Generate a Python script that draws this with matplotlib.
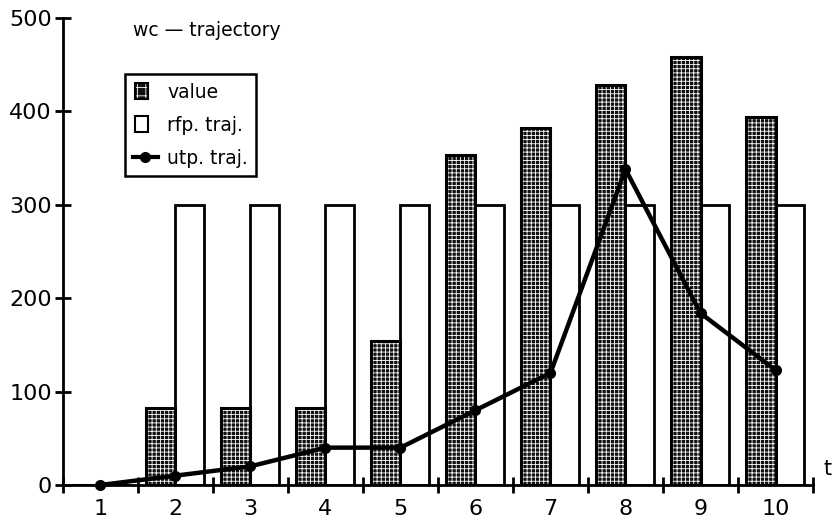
import matplotlib.pyplot as plt
from matplotlib.patches import Patch, Rectangle
from matplotlib.lines import Line2D
from matplotlib.legend_handler import HandlerPatch, HandlerTuple

# periods and the three series
periods = [1, 2, 3, 4, 5, 6, 7, 8, 9, 10]
value = [0, 82, 82, 82, 154, 353, 382, 428, 458, 394]
rfp_traj = [0, 300, 300, 300, 300, 300, 300, 300, 300, 300]
utp_traj = [0, 10, 20, 40, 40, 80, 120, 338, 184, 123]
y_ticks = [0, 100, 200, 300, 400, 500]

plt.rcParams['font.family'] = 'DejaVu Sans'
plt.rcParams['hatch.linewidth'] = 0.6

fig = plt.figure(figsize=(8.33, 5.22), dpi=100)
ax = fig.add_axes([0.0756, 0.0709, 0.9004, 0.8946])

w = 0.39
left = [p - w for p in periods]
# dotted fill: dark body crossed by white hatch lines, then a black outline
ax.bar(left, value, width=w, align='edge', color='#111111', edgecolor='white',
       hatch='++++', linewidth=0, zorder=2)
ax.bar(left, value, width=w, align='edge', fill=False, edgecolor='black',
       linewidth=2.2, zorder=3)
ax.bar(periods, rfp_traj, width=0.38, align='edge', color='white',
       edgecolor='black', linewidth=2, zorder=2)
ax.plot(periods, utp_traj, color='black', linewidth=3.2, marker='o',
        markersize=7, zorder=4, clip_on=False)

ax.set_xlim(0.5, 10.5)
ax.set_ylim(0, 500)

for s in ['top', 'right']:
    ax.spines[s].set_visible(False)
for s in ['left', 'bottom']:
    ax.spines[s].set_linewidth(2)

ax.set_yticks(y_ticks)
ax.tick_params(axis='y', direction='inout', length=12, width=2, pad=2,
               labelsize=16)
# boundaries carry the tick marks, centres carry the labels
ax.set_xticks([p - 0.5 for p in periods] + [10.5])
ax.set_xticklabels([])
ax.set_xticks(periods, minor=True)
ax.set_xticklabels([str(p) for p in periods], minor=True)
ax.tick_params(axis='x', which='major', direction='inout', length=12, width=2)
ax.tick_params(axis='x', which='minor', length=0, pad=10, labelsize=16)

ax.text(0.093, 0.974, 'wc \u2014 trajectory', transform=ax.transAxes,
        fontsize=13.5, ha='left', va='center')
ax.text(1.02, 0.035, 't', transform=ax.transAxes, fontsize=15,
        ha='center', va='center')


def square_patch(legend, orig_handle, xdescent, ydescent, width, height, fontsize):
    side = height * 1.25
    return Rectangle((xdescent + 1, ydescent - 0.12 * height), side * 0.8, side)


value_handle = (Patch(facecolor='#111111', edgecolor='white', hatch='++', linewidth=0),
                Patch(fill=False, edgecolor='black', linewidth=1.5))
rfp_handle = Patch(facecolor='white', edgecolor='black', linewidth=1.5)
utp_handle = Line2D([], [], color='black', linewidth=3.0, marker='o', markersize=7)

leg = ax.legend([value_handle, rfp_handle, utp_handle],
                ['value', 'rfp. traj.', 'utp. traj.'],
                loc='upper left', bbox_to_anchor=(0.07, 0.9),
                fontsize=13.5, handlelength=1.3, handletextpad=0.5,
                labelspacing=0.75, borderpad=0.45, fancybox=False,
                edgecolor='black', framealpha=1,
                handler_map={Patch: HandlerPatch(patch_func=square_patch),
                             tuple: HandlerTuple(ndivide=1, pad=0)})
leg.get_frame().set_linewidth(1.8)

fig.savefig('out.png', dpi=100)
